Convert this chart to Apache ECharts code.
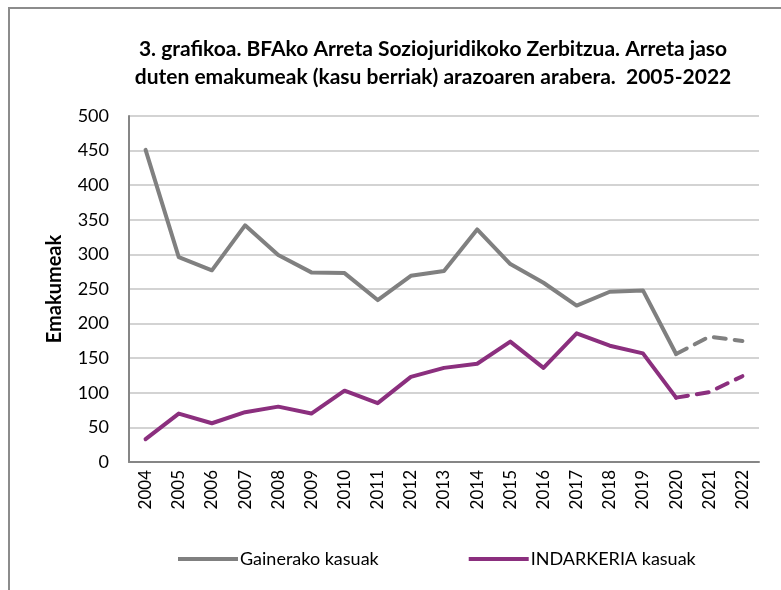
<!DOCTYPE html>
<html>
<head>
<meta charset="utf-8">
<script src="https://cdn.jsdelivr.net/npm/echarts@6/dist/echarts.min.js"></script>
<style>
  html, body { margin: 0; padding: 0; background: #fff; }
  #chart { width: 781px; height: 590px; }
</style>
</head>
<body>
<div id="chart"></div>
<script>
var years = ['2004','2005','2006','2007','2008','2009','2010','2011','2012','2013',
             '2014','2015','2016','2017','2018','2019','2020','2021','2022'];
var gainerako = [451, 296, 277, 342, 299, 274, 273, 234, 269, 276,
                 336, 286, 259, 226, 246, 248, 156, 181, 175];
var indarkeria = [33, 70, 56, 72, 80, 70, 103, 85, 123, 136,
                  142, 174, 136, 186, 168, 157, 93, 101, 124];
var yTicks = [0, 500, 50];   // min, max, interval
var dashFrom = 16;           // index of 2020, dashed from there on

function solidPart(arr) {
    return arr.map(function (v, i) { return i <= dashFrom ? v : null; });
}
function dashedPart(arr) {
    return arr.map(function (v, i) { return i >= dashFrom ? v : null; });
}

var grayColor = '#808080';
var purpleColor = '#8B2F7E';
var fontFam = 'Lato, "Open Sans", sans-serif';

var myChart = echarts.init(document.getElementById('chart'));
var option = {
    animation: false,
    backgroundColor: '#fff',
    title: {
        text: '3. grafikoa. BFAko Arreta Soziojuridikoko Zerbitzua. Arreta jaso\nduten emakumeak (kasu berriak) arazoaren arabera.  2005-2022',
        left: 428,
        textAlign: 'center',
        top: 30,
        textStyle: {
            fontFamily: fontFam,
            fontSize: 21,
            fontWeight: 'bold',
            color: '#000',
            lineHeight: 28
        }
    },
    graphic: [{
        type: 'polyline',
        shape: { points: [[9, 600], [9, 8], [800, 8]] },
        style: { stroke: '#8c8c8c', lineWidth: 2, fill: null }
    }],
    legend: {
        data: ['Gainerako kasuak', 'INDARKERIA kasuak'],
        left: 173,
        top: 545,
        itemGap: 90,
        itemWidth: 60,
        itemHeight: 4,
        icon: 'rect',
        textStyle: { fontFamily: fontFam, fontSize: 18, color: '#000', padding: [0, 0, 0, -3] }
    },
    grid: { left: 129, right: 22, top: 116, bottom: 128, containLabel: false },
    xAxis: {
        type: 'category',
        data: years,
        boundaryGap: true,
        axisLine: { lineStyle: { color: '#868686', width: 2 } },
        axisTick: { show: false },
        axisLabel: {
            rotate: 90,
            interval: 0,
            margin: 8,
            fontFamily: fontFam,
            fontSize: 17,
            color: '#000'
        }
    },
    yAxis: {
        type: 'value',
        min: yTicks[0],
        max: yTicks[1],
        interval: yTicks[2],
        name: 'Emakumeak',
        nameLocation: 'middle',
        nameGap: 64,
        nameTextStyle: { fontFamily: fontFam, fontSize: 20, fontWeight: 'bold', color: '#000' },
        axisLine: { show: true, lineStyle: { color: '#868686', width: 2 } },
        axisTick: { show: false },
        splitLine: { lineStyle: { color: '#c4c4c4', width: 1.5 } },
        axisLabel: { fontFamily: fontFam, fontSize: 18, color: '#000', margin: 20 }
    },
    series: [
        {
            name: 'Gainerako kasuak',
            type: 'line',
            data: solidPart(gainerako),
            symbol: 'none',
            color: grayColor,
            lineStyle: { color: grayColor, width: 4, cap: 'round', join: 'round' }
        },
        {
            name: 'Gainerako kasuak (2020-2022)',
            type: 'line',
            data: dashedPart(gainerako),
            symbol: 'none',
            color: grayColor,
            lineStyle: { color: grayColor, width: 4, type: [12, 9], cap: 'round' }
        },
        {
            name: 'INDARKERIA kasuak',
            type: 'line',
            data: solidPart(indarkeria),
            symbol: 'none',
            color: purpleColor,
            lineStyle: { color: purpleColor, width: 4, cap: 'round', join: 'round' }
        },
        {
            name: 'INDARKERIA kasuak (2020-2022)',
            type: 'line',
            data: dashedPart(indarkeria),
            symbol: 'none',
            color: purpleColor,
            lineStyle: { color: purpleColor, width: 4, type: [12, 9], cap: 'round' }
        }
    ]
};
myChart.setOption(option);
</script>
</body>
</html>
